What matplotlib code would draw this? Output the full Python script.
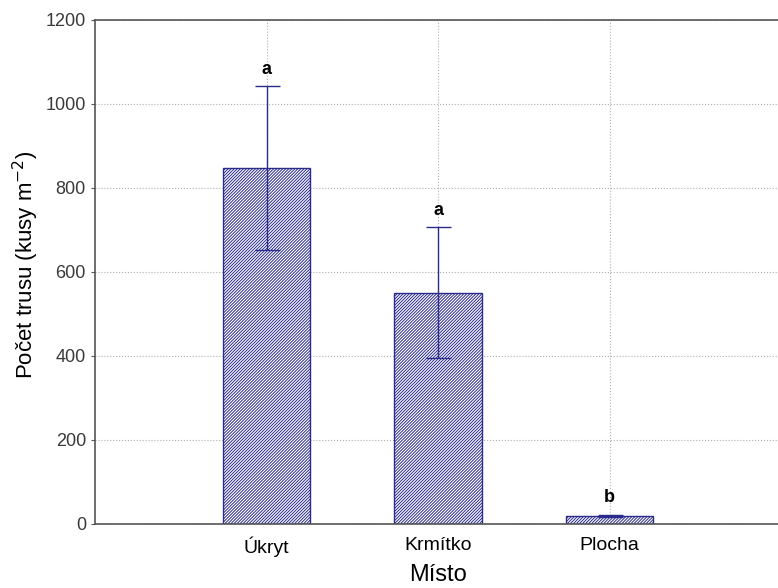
import matplotlib.pyplot as plt

plt.rcParams['font.family'] = ['Liberation Sans', 'DejaVu Sans']
plt.rcParams['hatch.linewidth'] = 0.7
plt.rcParams['hatch.color'] = '#3c3c5c'

mista = ['Úkryt', 'Krmítko', 'Plocha']
prumer = [847, 551, 19]
chyba = [195, 155, 3]
pismena = ['a', 'a', 'b']

fig = plt.figure(figsize=(7.78, 5.88), dpi=100)
ax = fig.add_axes([95 / 778, 64 / 588, 686 / 778, 504 / 588])

x = [1, 2, 3]
ax.bar(x, prumer, width=0.51, color='white', edgecolor='#2b2b8c',
       hatch='/' * 11, linewidth=1.0, zorder=2)
ax.errorbar(x, prumer, yerr=chyba, fmt='none', ecolor='#2b2b8c',
            elinewidth=1.0, capsize=9, capthick=1.0, zorder=3)
for xi, m, e, p in zip(x, prumer, chyba, pismena):
    ax.text(xi, m + e + 20, p, ha='center', va='bottom', fontsize=13,
            fontweight='bold', color='black')

ax.set_xlim(0, 4)
ax.set_ylim(0, 1200)
ax.set_xticks(x)
ax.set_xticklabels(mista, fontsize=14)
ax.set_yticks(range(0, 1201, 200))
ax.tick_params(axis='y', labelsize=13, labelcolor='#3a3a3a', length=3,
               color='#555555')
ax.tick_params(axis='x', length=0, pad=9)
ax.grid(True, linestyle=':', color='#b0b0b0', linewidth=0.8, zorder=0)
ax.set_axisbelow(True)
for s in ['left', 'bottom', 'top']:
    ax.spines[s].set_color('#555555')
    ax.spines[s].set_linewidth(1.2)
ax.spines['right'].set_visible(False)

ax.set_xlabel('Místo', fontsize=17, labelpad=5)
ax.set_ylabel('Počet trusu (kusy m$^{-2}$)', fontsize=16)
ax.yaxis.set_label_coords(-0.078, 0.514)

fig.savefig('out.png', dpi=100)
